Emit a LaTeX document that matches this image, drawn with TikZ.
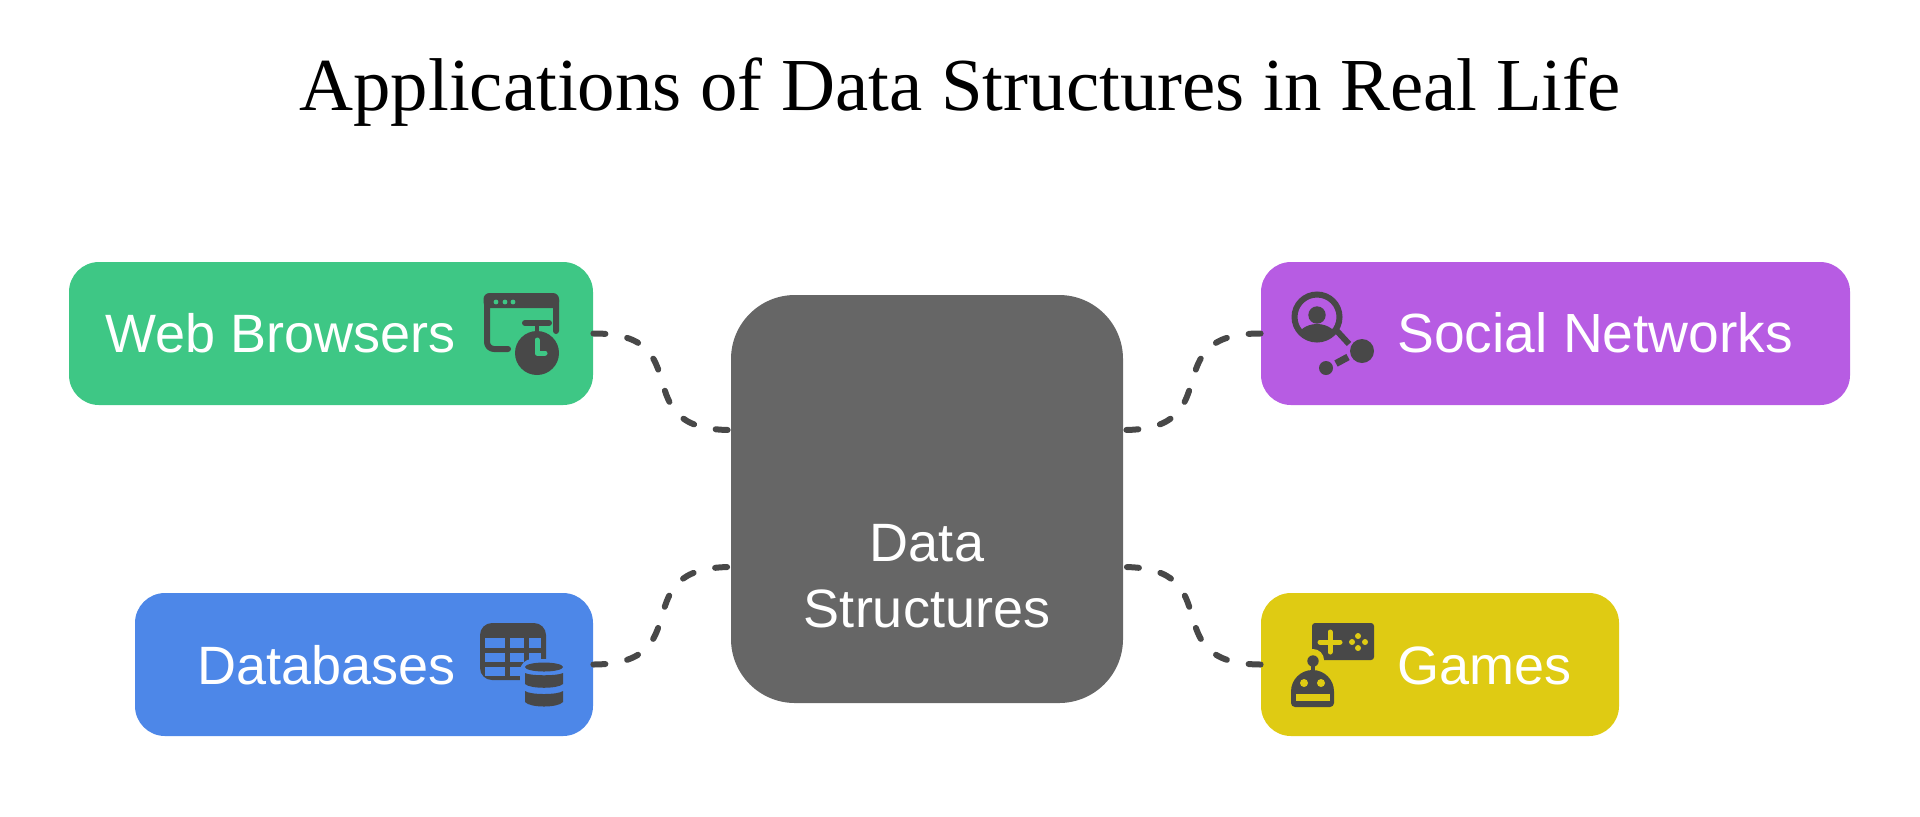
\documentclass[tikz,border=0pt]{standalone}
\usepackage{fontspec}
\setmainfont{Liberation Sans}
\newfontfamily\titlefont{Liberation Serif}
\definecolor{webgreen}{HTML}{3EC785}
\definecolor{socialpurple}{HTML}{B75CE3}
\definecolor{dbblue}{HTML}{4D87E8}
\definecolor{gameyellow}{HTML}{DFCB13}
\definecolor{coregray}{HTML}{666666}
\definecolor{icondark}{HTML}{484848}
\tikzset{
    box/.style={inner sep=0pt,rounded corners=15pt},
    boxlabel/.style={inner sep=0pt,text=white,font=\fontsize{27}{33}\selectfont},
    link/.style={icondark,line width=3pt,line cap=round,dash pattern=on 6pt off 11.1pt},
    iconline/.style={icondark,line width=3pt,line cap=round},
}
\begin{document}
\begin{tikzpicture}[x=.5pt,y=-.5pt]
    \useasboundingbox (0,0) rectangle (1920,816);
    \node[inner sep=0pt,font=\titlefont\fontsize{37.4}{42}\selectfont] (title) at (960,92) {Applications of Data Structures in Real Life};

    \node[box,fill=webgreen,minimum width=262pt,minimum height=71.5pt] (web) at (331,333.5) {};
    \node[box,fill=socialpurple,minimum width=294.5pt,minimum height=71.5pt] (social) at (1555.5,333.5) {};
    \node[box,fill=dbblue,minimum width=229pt,minimum height=71.5pt] (db) at (364,664.5) {};
    \node[box,fill=gameyellow,minimum width=179pt,minimum height=71.5pt] (games) at (1440,664.5) {};
    \node[box,fill=coregray,rounded corners=32pt,minimum width=196pt,minimum height=204pt] (core) at (927,499) {};

    \node[boxlabel,anchor=base east] (webtext) at (456,352) {Web Browsers};
    \node[boxlabel,anchor=base east] (dbtext) at (456,684) {Databases};
    \node[boxlabel,anchor=base west,font=\fontsize{27.6}{33}\selectfont] (socialtext) at (1397,352) {Social Networks};
    \node[boxlabel,anchor=base west] (gamestext) at (1397,684) {Games};
    \node[boxlabel,align=center] (coretext) at (927,576) {Data\\Structures};

    \coordinate (coreA) at (731,430);
    \coordinate (coreB) at (731,567);
    \coordinate (coreC) at (1123,430);
    \coordinate (coreD) at (1123,567);
    \draw[link] (web.east) .. controls (702,333) and (622,430) .. (coreA);
    \draw[link] (db.east) .. controls (702,664) and (622,567) .. (coreB);
    \draw[link] (social.west) .. controls (1152,333) and (1232,430) .. (coreC);
    \draw[link] (games.west) .. controls (1152,664) and (1232,567) .. (coreD);

    \draw[iconline,line join=round,rounded corners=3.5pt] (556,331) -- (556,300) (487,300) -- (487,349) -- (508,349);
    \fill[icondark,rounded corners=3pt] (483.5,293) rectangle (559,308);
    \fill[webgreen] (496,302) circle (2.4) (505,302) circle (2.4) (513,302) circle (2.4);
    \fill[icondark] (537,353) circle (22);
    \draw[iconline] (525,323) -- (549,323);
    \draw[iconline,line width=2pt] (537,325) -- (537,333);
    \draw[webgreen,line width=2.5pt,line cap=round,line join=round] (537,340) -- (537,353) -- (545,353);

    \draw[icondark,line width=3pt] (1317,317) circle (22.5);
    \fill[icondark] (1317,315) circle (8.7);
    \begin{scope}
    \clip (1317,317) circle (22.5);
    \fill[icondark] (1317,339) ellipse (20 and 15);
    \end{scope}
    \draw[iconline,line cap=butt] (1337,331) -- (1349,344);
    \fill[icondark] (1362,351) circle (12);
    \fill[icondark] (1326,368) circle (7);
    \draw[iconline,line cap=butt,line width=3.5pt] (1336,363.5) -- (1348,357);

    \fill[icondark,rounded corners=6pt] (480,623) rectangle (546,680);
    \fill[dbblue] (485.3,638.3) rectangle (504.7,648.3);
    \fill[dbblue] (509.7,638.3) rectangle (524,648.3);
    \fill[dbblue] (529,638.3) rectangle (541.3,648.3);
    \fill[dbblue] (485.3,653.3) rectangle (504.7,662.3);
    \fill[dbblue] (509.7,653.3) rectangle (524,662.3);
    \fill[dbblue] (529,653.3) rectangle (541.3,662.3);
    \fill[dbblue] (485.3,666.7) rectangle (504.7,676);
    \fill[dbblue] (509.7,666.7) rectangle (524,676);
    \fill[dbblue,rounded corners=6pt] (520,659) rectangle (568,714);
    \fill[icondark] (544,667) ellipse (19 and 4.5);
    \fill[icondark] (525,673) .. controls (530,676) and (558,676) .. (563,673) -- (563,684) .. controls (558,689) and (530,689) .. (525,684) -- cycle;
    \fill[icondark] (525,691) .. controls (530,695) and (558,695) .. (563,691) -- (563,702) .. controls (558,708) and (530,708) .. (525,702) -- cycle;

    \fill[icondark,rounded corners=1.5pt] (1312,623) rectangle (1374,660);
    \fill[gameyellow] (1313,660) circle (11);
    \draw[gameyellow,line width=2.5pt,line cap=round] (1320,642) -- (1340,642) (1330,632) -- (1330,652);
    \fill[gameyellow] (1358,636) circle (3) (1352,642) circle (3) (1365,642) circle (3) (1358,648) circle (3);
    \fill[icondark] (1313,661) circle (5.7);
    \draw[icondark,line width=2pt] (1313,661) -- (1313,672);
    \fill[icondark] (1291,691.5) arc (180:360:21.5) -- (1334,703) arc (0:90:4) -- (1295,707) arc (90:180:4) -- cycle;
    \fill[gameyellow] (1304,683) circle (4) (1321,683) circle (4);
    \fill[gameyellow] (1296,694) rectangle (1330,701);
\end{tikzpicture}
\end{document}
